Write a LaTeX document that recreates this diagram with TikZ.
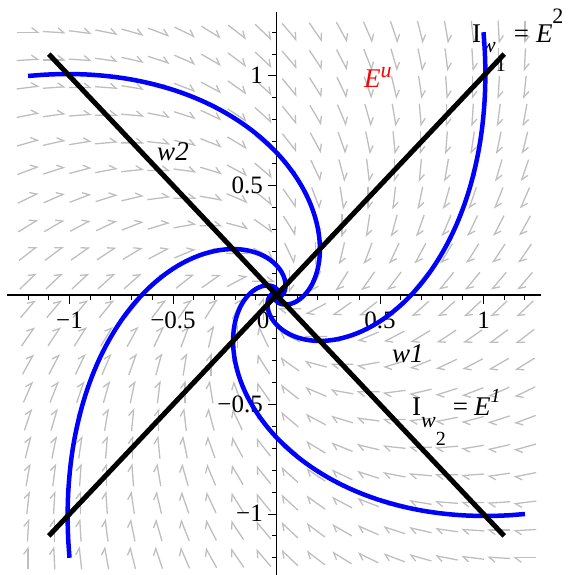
\documentclass[tikz,border=0pt]{standalone}
\usepackage{fontspec}
\setmainfont{Liberation Serif}
\usetikzlibrary{arrows.meta}
\definecolor{fieldgray}{RGB}{190,190,190}
\definecolor{trajblue}{RGB}{0,0,255}
\newcommand\SubSz[1]{\fontsize{#1}{#1}\selectfont}
\begin{document}
\begin{tikzpicture}[x=207pt,y=219pt,
  fieldarrow/.style={draw=fieldgray, line width=1.3pt, -{Straight Barb[harpoon,length=6pt,width=9pt]}},
  traj/.style={draw=trajblue, line width=4.5pt, line join=round},
  eigline/.style={draw=black, line width=5pt},
  axisline/.style={draw=black, line width=1.2pt},
  tickmark/.style={draw=black, line width=1pt},
  ticklab/.style={font=\SubSz{25}, inner sep=0pt},
  lab/.style={font=\SubSz{27}, inner sep=0pt}]
\useasboundingbox (-1.33575,-1.27854) rectangle (1.41787,1.34703);
% direction field
\foreach \i in {0,...,19}{
  \foreach \j in {0,...,19}{
    \pgfmathsetmacro\px{-1.2+\i*2.4/19}
    \pgfmathsetmacro\py{-1.2+\j*2.4/19}
    \pgfmathsetmacro\ang{atan2((0-\px-\py)*219,(\py-\px)*207)}
    \draw[fieldarrow] ([shift={(\ang+180:11.5pt)}]\px,\py) -- ++(\ang:23pt);
  }
}
% axes
\draw[axisline] (-1.3,0) -- (1.28,0);
\draw[axisline] (0,-1.3) -- (0,1.29);
\foreach \t in {-12,...,12}{
  \draw[tickmark] (\t/10,0) -- ++(0,-5pt);
  \draw[tickmark] (0,\t/10) -- ++(-5pt,0);
}
\foreach \t in {-1,-0.5,0.5,1}{
  \draw[tickmark] (\t,0) -- ++(0,-9pt);
  \draw[tickmark] (0,\t) -- ++(-9pt,0);
}
% tick labels
\node[ticklab, anchor=base] (xm1) at (-1,-0.1507) {−1};
\node[ticklab, anchor=base] (xm05) at (-0.5,-0.1507) {−0.5};
\node[ticklab, anchor=base] (x0) at (-0.065,-0.1507) {0};
\node[ticklab, anchor=base] (x05) at (0.5,-0.1507) {0.5};
\node[ticklab, anchor=base] (x1) at (1,-0.1507) {1};
\node[ticklab, anchor=base east] (y1) at (-0.065,0.9635) {1};
\node[ticklab, anchor=base east] (y05) at (-0.065,0.4635) {0.5};
\node[ticklab, anchor=base east] (ym05) at (-0.065,-0.5365) {−0.5};
\node[ticklab, anchor=base east] (ym1) at (-0.065,-1.0365) {−1};
% labels
\node[lab, text=red] (Eu) at (0.490,0.995) {\textit{E}\raisebox{10pt}{\SubSz{22}\itshape u}};
\node[lab, anchor=base] (w2lab) at (-0.5,0.612) {\textit{w2}};
\node[lab, anchor=base] (w1lab) at (0.635,-0.306) {\textit{w1}};
\node[lab, anchor=base west] (Itop) at (0.944,1.1507)
  {I\raisebox{-10pt}{\SubSz{22}\itshape w}\raisebox{-29pt}{\SubSz{20}1}\hspace{8pt}=\hspace{7pt}\textit{E}\raisebox{19pt}{\SubSz{22}2}};
\node[lab, anchor=base west] (Ibot) at (0.6546,-0.548)
  {I\raisebox{-12pt}{\SubSz{22}\itshape w}\raisebox{-30pt}{\SubSz{20}2}\hspace{7pt}=\hspace{6pt}\textit{E}\raisebox{13pt}{\SubSz{20}\itshape 1}};
% trajectories
\foreach \xo/\yo in {-1.2/1, 1/1.2, 1.2/-1, -1/-1.2}{
  \draw[traj] plot[domain=0:600, samples=300, variable=\f, smooth]
    ({exp(-\f*pi/180)*((\xo)*cos(\f)+(\yo)*sin(\f))},
     {exp(-\f*pi/180)*((\yo)*cos(\f)-(\xo)*sin(\f))});
}
% eigen lines
\coordinate (w1a) at (-1.1,-1.1);
\coordinate (w1b) at (1.1,1.1);
\coordinate (w2a) at (-1.1,1.1);
\coordinate (w2b) at (1.1,-1.1);
\draw[eigline] (w1a) -- (w1b);
\draw[eigline] (w2a) -- (w2b);
\end{tikzpicture}
\end{document}
